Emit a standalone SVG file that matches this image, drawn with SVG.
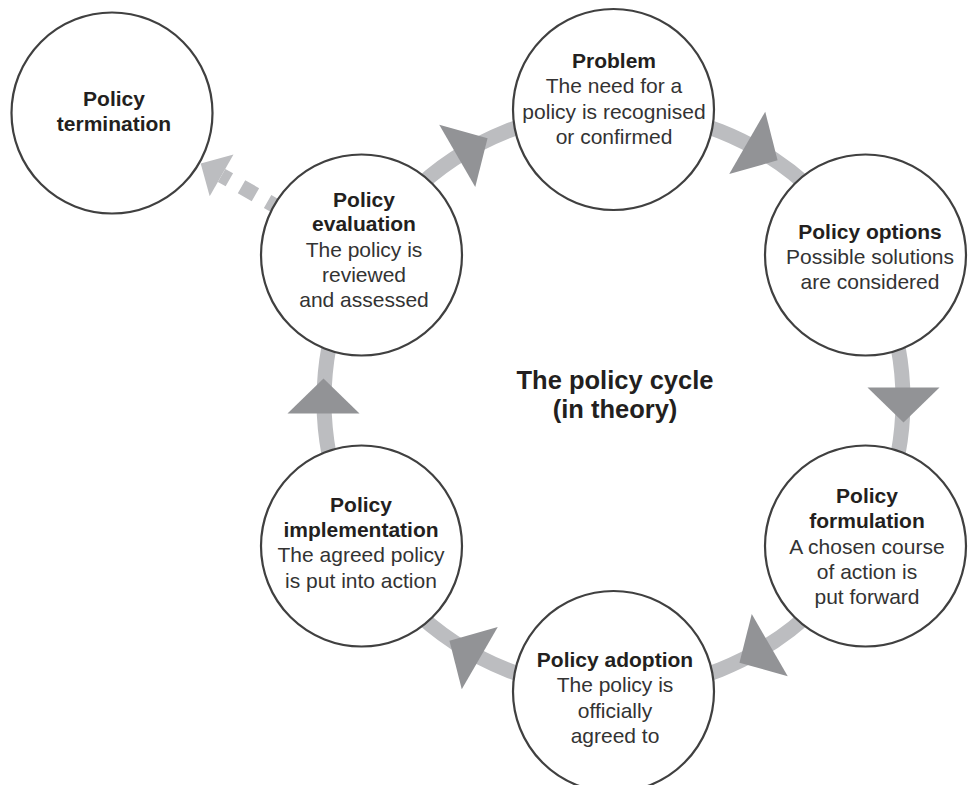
<svg xmlns="http://www.w3.org/2000/svg" xmlns:xlink="http://www.w3.org/1999/xlink" width="974" height="785" viewBox="0 0 974 785">
<style>
  .node { fill: #ffffff; stroke: #404040; stroke-width: 2.2; }
  .band { fill: none; stroke: #bcbdc0; stroke-width: 15; }
  .dash { fill: none; stroke: #bcbdc0; stroke-width: 15; stroke-dasharray: 16 14; }
  .head { fill: #929396; }
  .lhead { fill: #bcbdc0; }
  text { font-family: "Liberation Sans", Arial, sans-serif; font-size: 21px; text-anchor: middle; fill: #333333; }
  .b { font-weight: bold; fill: #231f20; }
  .title { font-weight: bold; font-size: 25.5px; fill: #231f20; }
</style>
<defs>
  <path id="ah" d="M-36,-13 L36,-13 L0,22 Z"/>
</defs>
<rect width="974" height="785" fill="#ffffff"/>
<g id="connectors">
  <circle class="band" cx="613.5" cy="400.5" r="289.5"/>
  <use xlink:href="#ah" class="head" transform="translate(613.5 400.5) rotate(0) translate(290 0)"/>
  <use xlink:href="#ah" class="head" transform="translate(613.5 400.5) rotate(60) translate(290 0)"/>
  <use xlink:href="#ah" class="head" transform="translate(613.5 400.5) rotate(120) translate(290 0)"/>
  <use xlink:href="#ah" class="head" transform="translate(613.5 400.5) rotate(180) translate(290 0)"/>
  <use xlink:href="#ah" class="head" transform="translate(613.5 400.5) rotate(240) translate(290 0)"/>
  <use xlink:href="#ah" class="head" transform="translate(613.5 400.5) rotate(300) translate(290 0)"/>
  <path class="dash" d="M281.5,209.5 L221.6,175.4"/>
  <path class="lhead" d="M233.5,154.5 L209.7,196.3 L200.7,163.5 Z"/>
</g>
<g id="termination">
  <circle class="node" cx="112" cy="113" r="100.5"/>
  <text class="b" x="114" y="106">Policy</text>
  <text class="b" x="114" y="131">termination</text>
</g>
<g id="problem">
  <circle class="node" cx="613.5" cy="109.5" r="100.5"/>
  <text class="b" x="614" y="68">Problem</text>
  <text x="614" y="93">The need for a</text>
  <text x="614" y="119">policy is recognised</text>
  <text x="614" y="144">or confirmed</text>
</g>
<g id="options">
  <circle class="node" cx="865.5" cy="255" r="100.5"/>
  <text class="b" x="870" y="239">Policy options</text>
  <text x="870" y="264">Possible solutions</text>
  <text x="870" y="289">are considered</text>
</g>
<g id="formulation">
  <circle class="node" cx="865.5" cy="546" r="100.5"/>
  <text class="b" x="867" y="503">Policy</text>
  <text class="b" x="867" y="528">formulation</text>
  <text x="867" y="554">A chosen course</text>
  <text x="867" y="579">of action is</text>
  <text x="867" y="604">put forward</text>
</g>
<g id="adoption">
  <circle class="node" cx="613.5" cy="691.5" r="100.5"/>
  <text class="b" x="615" y="667">Policy adoption</text>
  <text x="615" y="692">The policy is</text>
  <text x="615" y="718">officially</text>
  <text x="615" y="743">agreed to</text>
</g>
<g id="implementation">
  <circle class="node" cx="361.5" cy="546" r="100.5"/>
  <text class="b" x="361" y="512">Policy</text>
  <text class="b" x="361" y="537">implementation</text>
  <text x="361" y="562">The agreed policy</text>
  <text x="361" y="588">is put into action</text>
</g>
<g id="evaluation">
  <circle class="node" cx="361.5" cy="255" r="100.5"/>
  <text class="b" x="364" y="207">Policy</text>
  <text class="b" x="364" y="231">evaluation</text>
  <text x="364" y="257">The policy is</text>
  <text x="364" y="282">reviewed</text>
  <text x="364" y="307">and assessed</text>
</g>
<g id="title">
  <text class="title" x="615" y="389">The policy cycle</text>
  <text class="title" x="615" y="418">(in theory)</text>
</g>
</svg>
